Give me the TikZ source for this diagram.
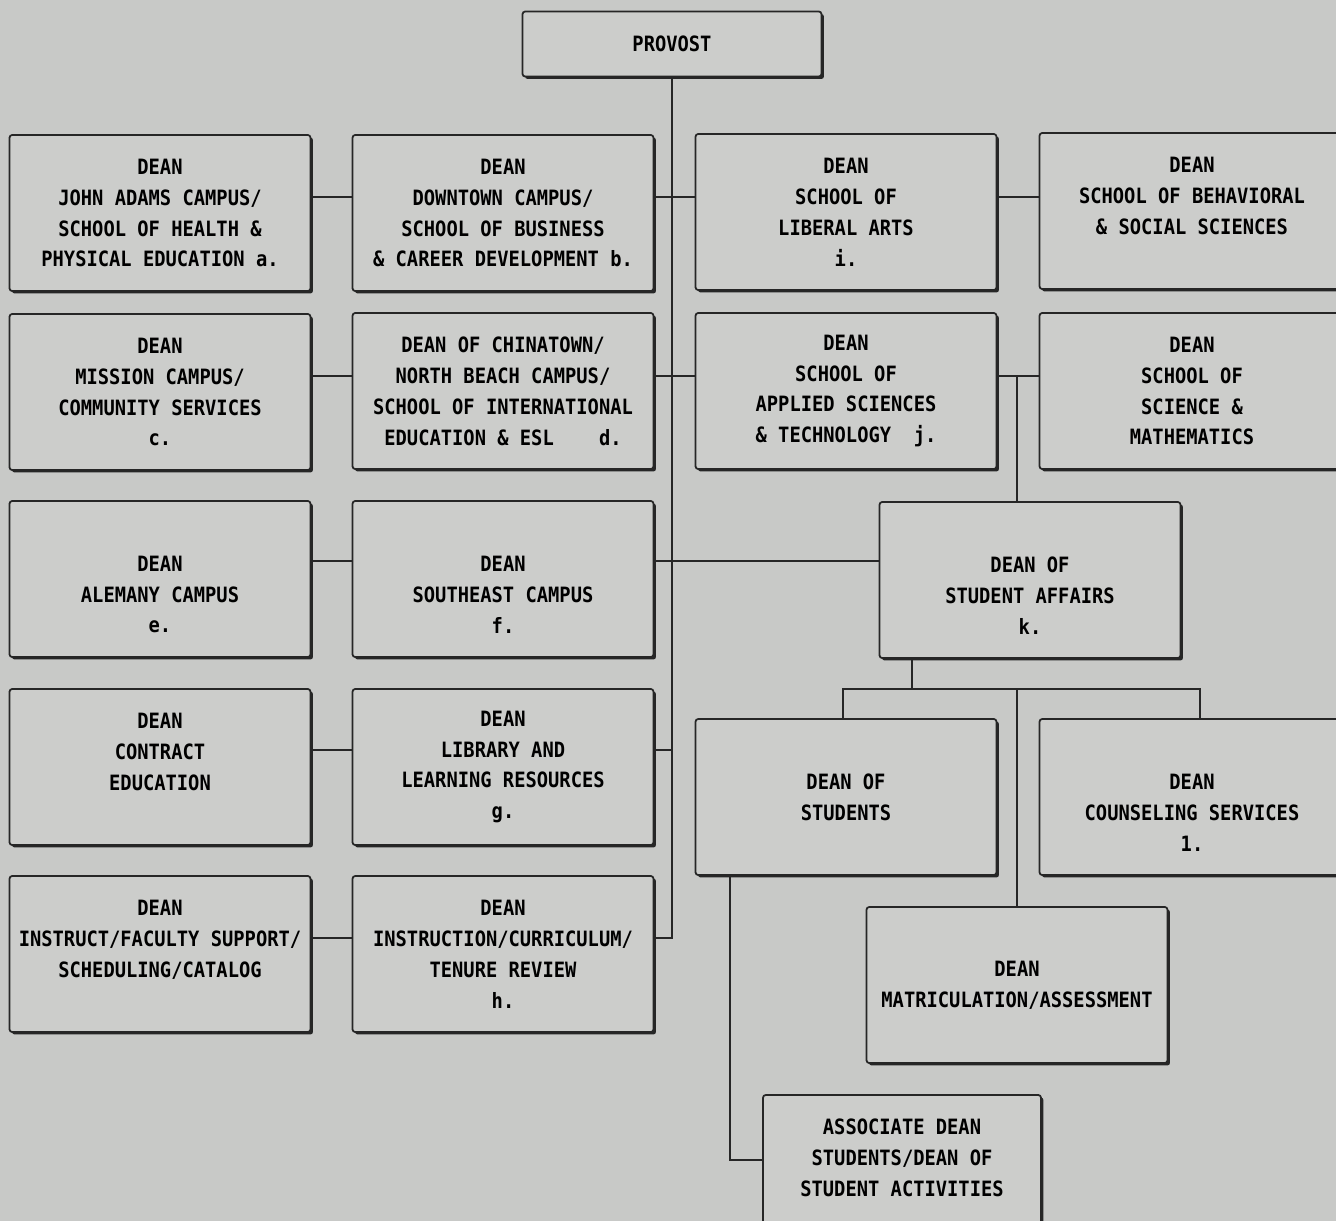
\documentclass[tikz,border=0pt]{standalone}
\usepackage{fontspec}
\newfontfamily\deanfont{DejaVu Sans Mono}[FakeStretch=0.89]
\usetikzlibrary{shadows}
\definecolor{paper}{RGB}{200,201,199}
\definecolor{boxfill}{RGB}{204,205,203}
\newcommand{\gapline}{\phantom{D}}
\tikzset{
  office/.style={draw=black!85, line width=1pt, fill=boxfill, rounded corners=1.5pt,
    minimum width=6.02cm, minimum height=3.12cm, align=center, inner sep=0pt,
    font=\deanfont\bfseries\fontsize{12}{17.6}\selectfont,
    drop shadow={shadow xshift=0.05cm, shadow yshift=-0.05cm, opacity=1, fill=black!85}},
  wide/.style={minimum width=6.1cm},
  link/.style={draw=black!85, line width=1pt},
}
\begin{document}
\begin{tikzpicture}[x=0.02cm, y=-0.02cm]
  \useasboundingbox (0,0) rectangle (1336,1221);
  \clip (0,0) rectangle (1336,1221);
  \fill[paper] (0,0) rectangle (1336,1221);

  \node[office, minimum width=5.98cm, minimum height=1.3cm] (prov) at (672,44) {PROVOST};

  % first column
  \node[office] (adams) at (160,213) {DEAN\\JOHN ADAMS CAMPUS/\\SCHOOL OF HEALTH \&\\PHYSICAL EDUCATION a.};
  \node[office] (mission) at (160,392) {DEAN\\MISSION CAMPUS/\\COMMUNITY SERVICES\\c.};
  \node[office] (alemany) at (160,579) {\gapline\\DEAN\\ALEMANY CAMPUS\\e.};
  \node[office] (contract) at (160,767) {DEAN\\CONTRACT\\EDUCATION\\\gapline};
  \node[office] (instruct) at (160,954) {DEAN\\INSTRUCT/FACULTY SUPPORT/\\SCHEDULING/CATALOG\\\gapline};

  % second column
  \node[office] (down) at (503,213) {DEAN\\DOWNTOWN CAMPUS/\\SCHOOL OF BUSINESS\\\& CAREER DEVELOPMENT b.};
  \node[office] (china) at (503,391) {DEAN OF CHINATOWN/\\NORTH BEACH CAMPUS/\\SCHOOL OF INTERNATIONAL\\EDUCATION \& ESL~~~~d.};
  \node[office] (southeast) at (503,579) {\gapline\\DEAN\\SOUTHEAST CAMPUS\\f.};
  \node[office] (library) at (503,767) {DEAN\\LIBRARY AND\\LEARNING RESOURCES\\g.};
  \node[office] (curric) at (503,954) {DEAN\\INSTRUCTION/CURRICULUM/\\TENURE REVIEW\\h.};

  % right side
  \node[office] (arts) at (846,212) {DEAN\\SCHOOL OF\\LIBERAL ARTS\\i.};
  \node[office] (applied) at (846,391) {DEAN\\SCHOOL OF\\APPLIED SCIENCES\\\& TECHNOLOGY~~j.};
  \node[office, wide] (behav) at (1192,211) {DEAN\\SCHOOL OF BEHAVIORAL\\\& SOCIAL SCIENCES\\\gapline};
  \node[office, wide] (science) at (1192,391) {DEAN\\SCHOOL OF\\SCIENCE \&\\MATHEMATICS};
  \node[office] (affairs) at (1030,580) {\gapline\\DEAN OF\\STUDENT AFFAIRS\\k.};
  \node[office] (students) at (846,797) {DEAN OF\\STUDENTS};
  \node[office, wide] (couns) at (1192,797) {\gapline\\DEAN\\COUNSELING SERVICES\\1.};
  \node[office] (matric) at (1017,985) {DEAN\\MATRICULATION/ASSESSMENT};
  \node[office, minimum width=5.56cm] (assoc) at (902,1173) {ASSOCIATE DEAN\\STUDENTS/DEAN OF\\STUDENT ACTIVITIES\\\gapline};

  % rows on the trunk
  \coordinate (r1) at (672,197);
  \coordinate (r2) at (672,376);
  \coordinate (r3) at (672,561);
  \coordinate (r4) at (672,750);
  \coordinate (r5) at (672,938);

  \draw[link] (prov.south) -- (prov.south |- r5) -- (curric.east |- r5);
  \draw[link] (adams.east |- r1) -- (down.west |- r1);
  \draw[link] (down.east |- r1) -- (arts.west |- r1);
  \draw[link] (arts.east |- r1) -- (behav.west |- r1);
  \draw[link] (mission.east |- r2) -- (china.west |- r2);
  \draw[link] (china.east |- r2) -- (applied.west |- r2);
  \draw[link] (applied.east |- r2) -- (science.west |- r2);
  \draw[link] (alemany.east |- r3) -- (southeast.west |- r3);
  \draw[link] (southeast.east |- r3) -- (affairs.west |- r3);
  \draw[link] (contract.east |- r4) -- (library.west |- r4);
  \draw[link] (library.east |- r4) -- (r4);
  \draw[link] (instruct.east |- r5) -- (curric.west |- r5);

  % student affairs
  \coordinate (sa) at (1017,376);
  \draw[link] (sa) -- (sa |- affairs.north);
  \coordinate (bar) at (912,689);
  \coordinate (barl) at (843,689);
  \coordinate (barm) at (1017,689);
  \coordinate (barr) at (1200,689);
  \draw[link] (bar |- affairs.south) -- (bar);
  \draw[link] (barl |- students.north) -- (barl) -- (barr) -- (barr |- couns.north);
  \draw[link] (barm) -- (barm |- matric.north);
  \coordinate (ad) at (730,1160);
  \draw[link] (ad |- students.south) -- (ad) -- (assoc.west |- ad);
\end{tikzpicture}
\end{document}
